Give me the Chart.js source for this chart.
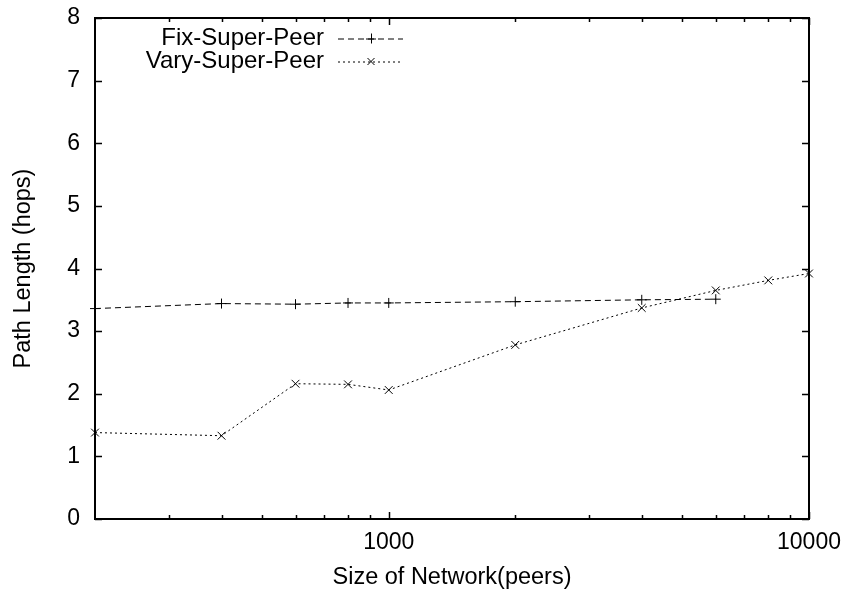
<!DOCTYPE html>
<html><head><meta charset="utf-8">
<script src="https://cdn.jsdelivr.net/npm/chart.js@4.4.1/dist/chart.umd.min.js"></script>
<style>html,body{margin:0;padding:0;background:#fff;} canvas{display:block;}</style>
</head><body>
<canvas id="c" width="841" height="593"></canvas>
<script>
// ---- data ----
const networkSizes = [200, 400, 600, 800, 1000, 2000, 4000, 6000, 8000, 10000];
const fixSuperPeer = [3.36, 3.44, 3.43, 3.45, 3.45, 3.47, 3.50, 3.51];
const varySuperPeer = [1.38, 1.33, 2.16, 2.15, 2.06, 2.78, 3.37, 3.65, 3.81, 3.92];
const seriesNames = ['Fix-Super-Peer', 'Vary-Super-Peer'];
const xLabelTicks = [1000, 10000];
const xMinorTicks = [300, 400, 500, 600, 700, 800, 900, 2000, 3000, 4000, 5000, 6000, 7000, 8000, 9000];
const yTicks = [0, 1, 2, 3, 4, 5, 6, 7, 8];
const xTitle = 'Size of Network(peers)';
const yTitle = 'Path Length (hops)';

const FONT = '"Liberation Sans", Arial, Helvetica, sans-serif';

function toPoints(values) {
  return values.map((v, i) => ({ x: networkSizes[i], y: v }));
}

const datasets = [
  {
    label: seriesNames[0],
    data: toPoints(fixSuperPeer),
    borderColor: '#000', backgroundColor: '#000',
    borderWidth: 1, borderDash: [6, 4],
    pointStyle: 'cross', pointRadius: 5, pointBorderWidth: 1, pointBorderColor: '#000',
    fill: false, tension: 0, clip: false
  },
  {
    label: seriesNames[1],
    data: toPoints(varySuperPeer),
    borderColor: '#000', backgroundColor: '#000',
    borderWidth: 1, borderDash: [2, 3],
    pointStyle: 'crossRot', pointRadius: 5.5, pointBorderWidth: 1, pointBorderColor: '#000',
    fill: false, tension: 0, clip: false
  }
];

const framePlugin = {
  id: 'frame',
  afterDatasetsDraw(chart) {
    const { ctx, chartArea: a, scales: { x, y } } = chart;
    ctx.save();
    ctx.strokeStyle = '#000';
    ctx.setLineDash([]);
    ctx.lineWidth = 1.5;
    ctx.beginPath();
    yTicks.forEach(v => {
      const py = Math.round(y.getPixelForValue(v)) + 0.5;
      ctx.moveTo(a.left, py); ctx.lineTo(a.left + 7, py);
      ctx.moveTo(a.right, py); ctx.lineTo(a.right - 7, py);
    });
    xLabelTicks.forEach(v => {
      const px = Math.round(x.getPixelForValue(v)) + 0.5;
      ctx.moveTo(px, a.bottom); ctx.lineTo(px, a.bottom - 7);
      ctx.moveTo(px, a.top); ctx.lineTo(px, a.top + 7);
    });
    xMinorTicks.forEach(v => {
      const px = Math.round(x.getPixelForValue(v)) + 0.5;
      ctx.moveTo(px, a.bottom); ctx.lineTo(px, a.bottom - 4);
      ctx.moveTo(px, a.top); ctx.lineTo(px, a.top + 4);
    });
    ctx.stroke();
    ctx.lineWidth = 2;
    ctx.strokeRect(a.left, a.top, a.right - a.left, a.bottom - a.top);
    ctx.restore();
  }
};

const legendPlugin = {
  id: 'gnuLegend',
  afterDraw(chart) {
    const { ctx } = chart;
    const textRight = 324, lineL = 338, lineR = 403, markX = 371;
    const rows = [38.5, 61.5];
    ctx.save();
    ctx.font = '24px ' + FONT;
    ctx.fillStyle = '#000';
    ctx.textAlign = 'right';
    ctx.textBaseline = 'middle';
    chart.data.datasets.forEach((ds, i) => {
      const yy = rows[i];
      ctx.fillText(ds.label, textRight, yy);
      ctx.strokeStyle = '#000';
      ctx.lineWidth = 1;
      ctx.setLineDash(ds.borderDash);
      ctx.beginPath();
      ctx.moveTo(lineL, yy + 0.5); ctx.lineTo(lineR, yy + 0.5);
      ctx.stroke();
      ctx.setLineDash([]);
      ctx.beginPath();
      if (ds.pointStyle === 'cross') {
        ctx.moveTo(markX - 5, yy + 0.5); ctx.lineTo(markX + 5, yy + 0.5);
        ctx.moveTo(markX + 0.5, yy - 5); ctx.lineTo(markX + 0.5, yy + 5);
      } else {
        ctx.moveTo(markX - 3.5, yy - 3.5); ctx.lineTo(markX + 3.5, yy + 3.5);
        ctx.moveTo(markX - 3.5, yy + 3.5); ctx.lineTo(markX + 3.5, yy - 3.5);
      }
      ctx.stroke();
    });
    ctx.restore();
  }
};

new Chart(document.getElementById('c'), {
  type: 'line',
  data: { datasets },
  options: {
    responsive: false,
    animation: false,
    devicePixelRatio: 1,
    layout: { padding: { top: 18, right: 32, left: 0, bottom: 0 } },
    plugins: { legend: { display: false }, tooltip: { enabled: false } },
    scales: {
      x: {
        type: 'logarithmic',
        min: 200, max: 10000,
        grid: { display: false, drawTicks: false },
        border: { display: false },
        afterBuildTicks(scale) { scale.ticks = xLabelTicks.map(v => ({ value: v })); },
        afterFit(scale) {
          scale.height = 74;
          scale.paddingLeft = 0; scale.paddingRight = 0;
        },
        ticks: {
          autoSkip: false, maxRotation: 0, minRotation: 0, padding: 10,
          color: '#000', font: { family: FONT, size: 23 },
          callback: v => String(v)
        },
        title: {
          display: true, text: xTitle, color: '#000',
          font: { family: FONT, size: 23.5 }, padding: { top: 0, bottom: 1 }
        }
      },
      y: {
        type: 'linear',
        min: 0, max: 8,
        grid: { display: false, drawTicks: false },
        border: { display: false },
        afterBuildTicks(scale) { scale.ticks = yTicks.map(v => ({ value: v })); },
        afterFit(scale) {
          scale.width = 95;
          scale.paddingTop = 0; scale.paddingBottom = 0;
        },
        ticks: {
          autoSkip: false, padding: 15,
          color: '#000', font: { family: FONT, size: 23 },
          callback: v => String(v)
        },
        title: {
          display: true, text: yTitle, color: '#000',
          font: { family: FONT, size: 23.5 }, padding: { top: 9, bottom: 0 }
        }
      }
    }
  },
  plugins: [framePlugin, legendPlugin]
});
</script>
</body></html>
